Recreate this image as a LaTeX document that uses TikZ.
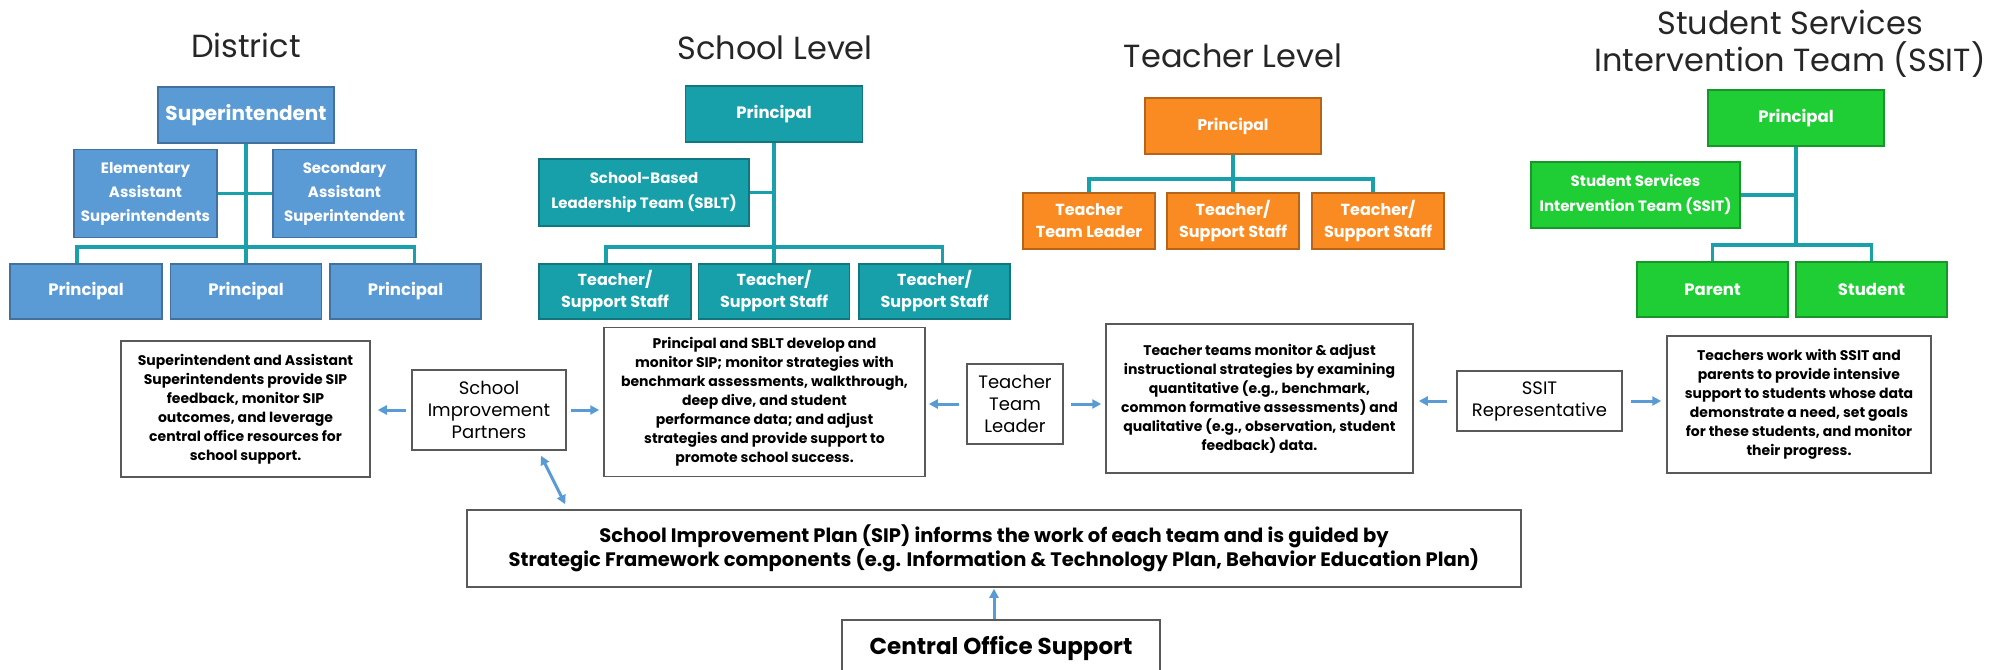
\documentclass[tikz,border=0pt]{standalone}
\usepackage{fontspec}
\setmainfont{Poppins}
\usetikzlibrary{arrows.meta}
\definecolor{distblue}{HTML}{5B9BD5}
\definecolor{distedge}{HTML}{41719C}
\definecolor{schteal}{HTML}{179FAA}
\definecolor{schedge}{HTML}{11767E}
\definecolor{tchorange}{HTML}{FA8B22}
\definecolor{tchedge}{HTML}{B5651A}
\definecolor{ssitgreen}{HTML}{1FCD34}
\definecolor{ssitedge}{HTML}{17962A}
\definecolor{linkteal}{HTML}{1AA0AB}
\definecolor{arrblue}{HTML}{5B9BD5}
\definecolor{boxgray}{HTML}{595959}

\begin{document}
\begin{tikzpicture}[x=1pt,y=-1pt,
  box/.style={rectangle,line width=1.2pt,text=white,align=center,inner sep=0pt,
    font=\bfseries\fontsize{16.5}{22}\selectfont},
  dist/.style={box,fill=distblue,draw=distedge},
  school/.style={box,fill=schteal,draw=schedge},
  teach/.style={box,fill=tchorange,draw=tchedge},
  ssit/.style={box,fill=ssitgreen,draw=ssitedge},
  link/.style={draw=linkteal,line width=3.2pt},
  txt/.style={rectangle,draw=boxgray,line width=1.5pt,fill=white,align=center,inner sep=0pt,
    font=\bfseries\fontsize{14}{19}\selectfont},
  lbl/.style={rectangle,draw=boxgray,line width=1.5pt,fill=white,align=center,inner sep=0pt,
    font=\fontsize{18}{22}\selectfont},
  arr/.style={-{Triangle[length=9pt,width=9pt]},draw=arrblue,line width=3pt},
  ttl/.style={font=\fontsize{32}{37}\selectfont,text=black!85,align=center}]

\useasboundingbox (0,0) rectangle (2001,669);
\fill[white] (0,0) rectangle (2001,669);

% titles
\node[ttl] (tdist) at (246,45) {District};
\node[ttl] (tschool) at (775,48) {School Level};
\node[ttl] (tteach) at (1233,56) {Teacher Level};
\node[ttl] (tssit) at (1790,44) {Student Services\\Intervention Team (SSIT)};

% district
\node[dist,minimum width=176pt,minimum height=56pt,font=\bfseries\fontsize{20}{22}\selectfont] (sup) at (246,115) {Superintendent};
\node[dist,minimum width=143pt,minimum height=88pt,font=\bfseries\fontsize{15}{24}\selectfont] (elem) at (145.5,193.5) {Elementary\\Assistant\\Superintendents};
\node[dist,minimum width=143pt,minimum height=88pt,font=\bfseries\fontsize{15}{24}\selectfont] (sec) at (344.5,193.5) {Secondary\\Assistant\\Superintendent};
\node[dist,minimum width=152pt,minimum height=55pt] (dp1) at (86,291.5) {Principal};
\node[dist,minimum width=151pt,minimum height=55pt] (dp2) at (246,291.5) {Principal};
\node[dist,minimum width=151pt,minimum height=55pt] (dp3) at (405.5,291.5) {Principal};
\coordinate (dbus) at (246,247);
\draw[link] (sup.south) -- (dp2.north);
\draw[link] (elem.east) -- (sec.west);
\draw[link] ([xshift=-9pt]dp1.north) |- (dbus) -| ([xshift=9pt]dp3.north);

% school level
\node[school,minimum width=177pt,minimum height=56pt] (sp) at (774,114) {Principal};
\node[school,minimum width=210pt,minimum height=67pt,font=\bfseries\fontsize{15}{25}\selectfont] (sblt) at (644,192.5) {School-Based\\Leadership Team (SBLT)};
\node[school,minimum width=152pt,minimum height=55pt,font=\bfseries\fontsize{16}{22}\selectfont] (st1) at (615,291.5) {Teacher/\\Support Staff};
\node[school,minimum width=151pt,minimum height=55pt,font=\bfseries\fontsize{16}{22}\selectfont] (st2) at (774,291.5) {Teacher/\\Support Staff};
\node[school,minimum width=151pt,minimum height=55pt,font=\bfseries\fontsize{16}{22}\selectfont] (st3) at (934.5,291.5) {Teacher/\\Support Staff};
\coordinate (sbus) at (774,247);
\draw[link] (sp.south) -- (st2.north);
\draw[link] (sblt.east) -- (sblt.east -| sp.south);
\draw[link] ([xshift=-9pt]st1.north) |- (sbus) -| ([xshift=8pt]st3.north);

% teacher level
\node[teach,minimum width=176pt,minimum height=56pt,font=\bfseries\fontsize{15.5}{22}\selectfont] (tp) at (1233,126) {Principal};
\node[teach,minimum width=132pt,minimum height=56pt,font=\bfseries\fontsize{16}{22}\selectfont] (tt1) at (1089,221) {Teacher\\Team Leader};
\node[teach,minimum width=132pt,minimum height=56pt,font=\bfseries\fontsize{16}{22}\selectfont] (tt2) at (1233,221) {Teacher/\\Support Staff};
\node[teach,minimum width=132pt,minimum height=56pt,font=\bfseries\fontsize{16}{22}\selectfont] (tt3) at (1378,221) {Teacher/\\Support Staff};
\coordinate (tbus) at (1233,179);
\draw[link] (tp.south) -- (tt2.north);
\draw[link] (tt1.north) |- (tbus) -| ([xshift=-5pt]tt3.north);

% ssit
\node[ssit,minimum width=176pt,minimum height=56pt] (gp) at (1796,118) {Principal};
\node[ssit,minimum width=209pt,minimum height=66pt,font=\bfseries\fontsize{15}{25}\selectfont] (gssit) at (1635.5,195) {Student Services\\Intervention Team (SSIT)};
\node[ssit,minimum width=151pt,minimum height=55pt] (gpar) at (1712.5,289.5) {Parent};
\node[ssit,minimum width=151pt,minimum height=55pt] (gstu) at (1871.5,289.5) {Student};
\coordinate (gbus) at (1796,245);
\draw[link] (gp.south) -- (gbus);
\draw[link] (gssit.east) -- (gssit.east -| gp.south);
\draw[link] (gpar.north) |- (gbus) -| (gstu.north);

% lower row
\node[txt,minimum width=249pt,minimum height=136pt] (supnote) at (245.5,409) {Superintendent and Assistant\\Superintendents provide SIP\\feedback, monitor SIP\\outcomes, and leverage\\central office resources for\\school support.};
\node[lbl,minimum width=154pt,minimum height=80pt] (sipp) at (489,410) {School\\Improvement\\Partners};
\node[txt,minimum width=321pt,minimum height=149pt] (prinnote) at (764.5,402) {Principal and SBLT develop and\\monitor SIP; monitor strategies with\\benchmark assessments, walkthrough,\\deep dive, and student\\performance data; and adjust\\strategies and provide support to\\promote school success.};
\node[lbl,minimum width=96pt,minimum height=80pt] (ttl) at (1015,404) {Teacher\\Team\\Leader};
\node[txt,minimum width=307pt,minimum height=149pt] (teachnote) at (1259.5,398.5) {Teacher teams monitor \& adjust\\instructional strategies by examining\\quantitative (e.g., benchmark,\\common formative assessments) and\\qualitative (e.g., observation, student\\feedback) data.};
\node[lbl,minimum width=165pt,minimum height=60pt] (ssrep) at (1539.5,401) {SSIT\\Representative};
\node[txt,minimum width=264pt,minimum height=137pt] (ssitnote) at (1799,404.5) {Teachers work with SSIT and\\parents to provide intensive\\support to students whose data\\demonstrate a need, set goals\\for these students, and monitor\\their progress.};

% plan and central office
\node[txt,minimum width=1054pt,minimum height=77pt,font=\bfseries\fontsize{19.5}{23}\selectfont] (sip) at (994,548.5) {School Improvement Plan (SIP) informs the work of each team and is guided by\\Strategic Framework components (e.g. Information \& Technology Plan, Behavior Education Plan)};
\node[txt,minimum width=318pt,minimum height=56pt,font=\bfseries\fontsize{23}{26}\selectfont] (cos) at (1001,648) {Central Office Support};

% arrows
\draw[arr,shorten <=5pt,shorten >=7pt] (sipp.west) -- (supnote.east |- sipp.west);
\draw[arr,shorten <=4pt,shorten >=4pt] (sipp.east) -- (prinnote.west |- sipp.east);
\draw[arr,shorten <=7pt,shorten >=3pt] (ttl.west) -- (prinnote.east |- ttl.west);
\draw[arr,shorten <=7pt,shorten >=4pt] (ttl.east) -- (teachnote.west |- ttl.east);
\draw[arr,shorten <=9pt,shorten >=5pt] (ssrep.west) -- (teachnote.east |- ssrep.west);
\draw[arr,shorten <=8pt,shorten >=5pt] (ssrep.east) -- (ssitnote.west |- ssrep.east);
\draw[arr,{Triangle[length=9pt,width=9pt]}-{Triangle[length=9pt,width=9pt]}] ([xshift=52pt,yshift=-5pt]sipp.south) -- ([xshift=99pt,yshift=5pt]sip.north west);
\draw[arr,shorten >=1pt] (cos.north -| sip.south) -- (sip.south);

\end{tikzpicture}
\end{document}
